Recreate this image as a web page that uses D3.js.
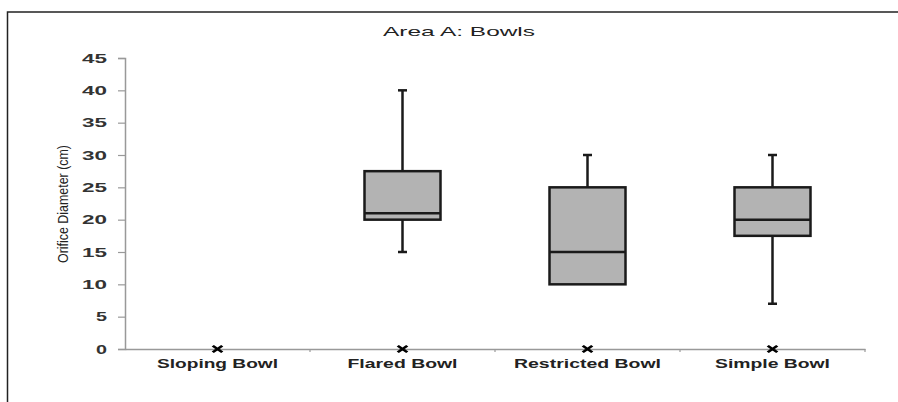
<!DOCTYPE html>
<html>
<head>
<meta charset="utf-8">
<script src="https://cdn.jsdelivr.net/npm/d3@7"></script>
<style>
  html, body { margin: 0; padding: 0; background: #fff; overflow: hidden; }
  svg { display: block; }
</style>
</head>
<body>
<svg id="chart" width="898" height="402"></svg>
<script>
// Bowl types along the x axis
const categories = ["Sloping Bowl", "Flared Bowl", "Restricted Bowl", "Simple Bowl"];
// Five-number summaries (cm); null where a type has no box
const whiskerLow  = [null, 15, 10, 7];
const quartile1   = [null, 20, 10, 17.5];
const medians     = [null, 21, 15, 20];
const quartile3   = [null, 27.5, 25, 25];
const whiskerHigh = [null, 40, 30, 30];
// Mean marker values
const means = [0, 0, 0, 0];
const yTicks = [0, 5, 10, 15, 20, 25, 30, 35, 40, 45];

const font = "'Liberation Sans', Arial, Helvetica, sans-serif";
const svg = d3.select("#chart");

// outer frame: only its top and left edges fall inside the page
svg.append("path")
  .attr("d", "M7.5,402V12H898")
  .attr("fill", "none").attr("stroke", "#222").attr("stroke-width", 1.5);

const x = d3.scaleBand().domain(categories).range([125, 865]).padding(0);
const y = d3.scaleLinear().domain([0, 45]).range([349, 58]);

// y axis
const yAxis = svg.append("g")
  .attr("transform", "translate(125,0)")
  .call(d3.axisLeft(y).tickValues(yTicks).tickSizeOuter(0).tickSize(7).tickPadding(11));
yAxis.select(".domain").attr("stroke", "#999").attr("stroke-width", 1.5);
yAxis.selectAll(".tick line").attr("stroke", "#999").attr("stroke-width", 1.2);
yAxis.selectAll(".tick text")
  .attr("font-family", font)
  .attr("font-size", 12).attr("font-weight", "bold").attr("fill", "#333")
  .attr("dy", "0.36em")
  .attr("textLength", d => (String(d).length === 1 ? 11 : 25))
  .attr("lengthAdjust", "spacingAndGlyphs");

// x axis: ticks sit on category boundaries
const labelWidths = { "Sloping Bowl": 121, "Flared Bowl": 110, "Restricted Bowl": 147, "Simple Bowl": 115 };
const xAxis = svg.append("g")
  .attr("transform", "translate(0,349)")
  .call(d3.axisBottom(x).tickSize(0).tickPadding(10));
xAxis.select(".domain").attr("stroke", "#999").attr("stroke-width", 1.5);
xAxis.selectAll(".tick text")
  .attr("font-family", font)
  .attr("font-size", 12.5).attr("font-weight", "bold").attr("fill", "#222")
  .attr("textLength", d => labelWidths[d])
  .attr("lengthAdjust", "spacingAndGlyphs");
const bounds = categories.slice(1).map(c => x(c)).concat([x.range()[1]]);
svg.append("g").selectAll("line").data(bounds).join("line")
  .attr("x1", d => d).attr("x2", d => d)
  .attr("y1", 349).attr("y2", 352)
  .attr("stroke", "#999").attr("stroke-width", 1.2);

// title
svg.append("text")
  .attr("x", 459).attr("y", 36)
  .attr("text-anchor", "middle")
  .attr("font-family", font)
  .attr("font-size", 13.5).attr("fill", "#222")
  .attr("textLength", 152).attr("lengthAdjust", "spacingAndGlyphs")
  .text("Area A: Bowls");

// y label (condensed)
svg.append("text")
  .attr("transform", "translate(68,204) rotate(-90)")
  .attr("text-anchor", "middle")
  .attr("font-family", font)
  .attr("font-size", 14.5).attr("fill", "#222")
  .attr("textLength", 118).attr("lengthAdjust", "spacingAndGlyphs")
  .text("Orifice Diameter (cm)");

const boxW = 76, capW = 9;
const data = categories.map((c, i) => ({
  c, lo: whiskerLow[i], q1: quartile1[i], med: medians[i], q3: quartile3[i], hi: whiskerHigh[i], mean: means[i]
}));
const boxes = svg.append("g").selectAll("g").data(data.filter(d => d.q1 !== null)).join("g")
  .attr("transform", d => `translate(${x(d.c) + x.bandwidth() / 2},0)`);

const stroke = "#1a1a1a";
// whiskers
boxes.append("line")
  .attr("x1", 0).attr("x2", 0)
  .attr("y1", d => y(d.hi)).attr("y2", d => y(d.q3))
  .attr("stroke", stroke).attr("stroke-width", 2.5);
boxes.append("line")
  .attr("x1", 0).attr("x2", 0)
  .attr("y1", d => y(d.q1)).attr("y2", d => y(d.lo))
  .attr("stroke", stroke).attr("stroke-width", 2.5);
boxes.append("line")
  .attr("x1", -capW / 2).attr("x2", capW / 2)
  .attr("y1", d => y(d.hi)).attr("y2", d => y(d.hi))
  .attr("stroke", stroke).attr("stroke-width", 2.5);
boxes.filter(d => d.lo < d.q1).append("line")
  .attr("x1", -capW / 2).attr("x2", capW / 2)
  .attr("y1", d => y(d.lo)).attr("y2", d => y(d.lo))
  .attr("stroke", stroke).attr("stroke-width", 2.5);
// boxes
boxes.append("rect")
  .attr("x", -boxW / 2).attr("width", boxW)
  .attr("y", d => y(d.q3)).attr("height", d => y(d.q1) - y(d.q3))
  .attr("fill", "#b3b3b3").attr("stroke", stroke).attr("stroke-width", 2.5);
// medians
boxes.append("line")
  .attr("x1", -boxW / 2).attr("x2", boxW / 2)
  .attr("y1", d => y(d.med)).attr("y2", d => y(d.med))
  .attr("stroke", stroke).attr("stroke-width", 2.5);

// mean markers (slightly wider than tall)
const cross = d3.symbol().type(d3.symbolX).size(34);
svg.append("g").selectAll("path").data(data).join("path")
  .attr("d", cross)
  .attr("transform", d => `translate(${x(d.c) + x.bandwidth() / 2},${y(d.mean)}) scale(1.35,0.9)`)
  .attr("fill", "none").attr("stroke", "#000").attr("stroke-width", 2.3);
</script>
</body>
</html>
